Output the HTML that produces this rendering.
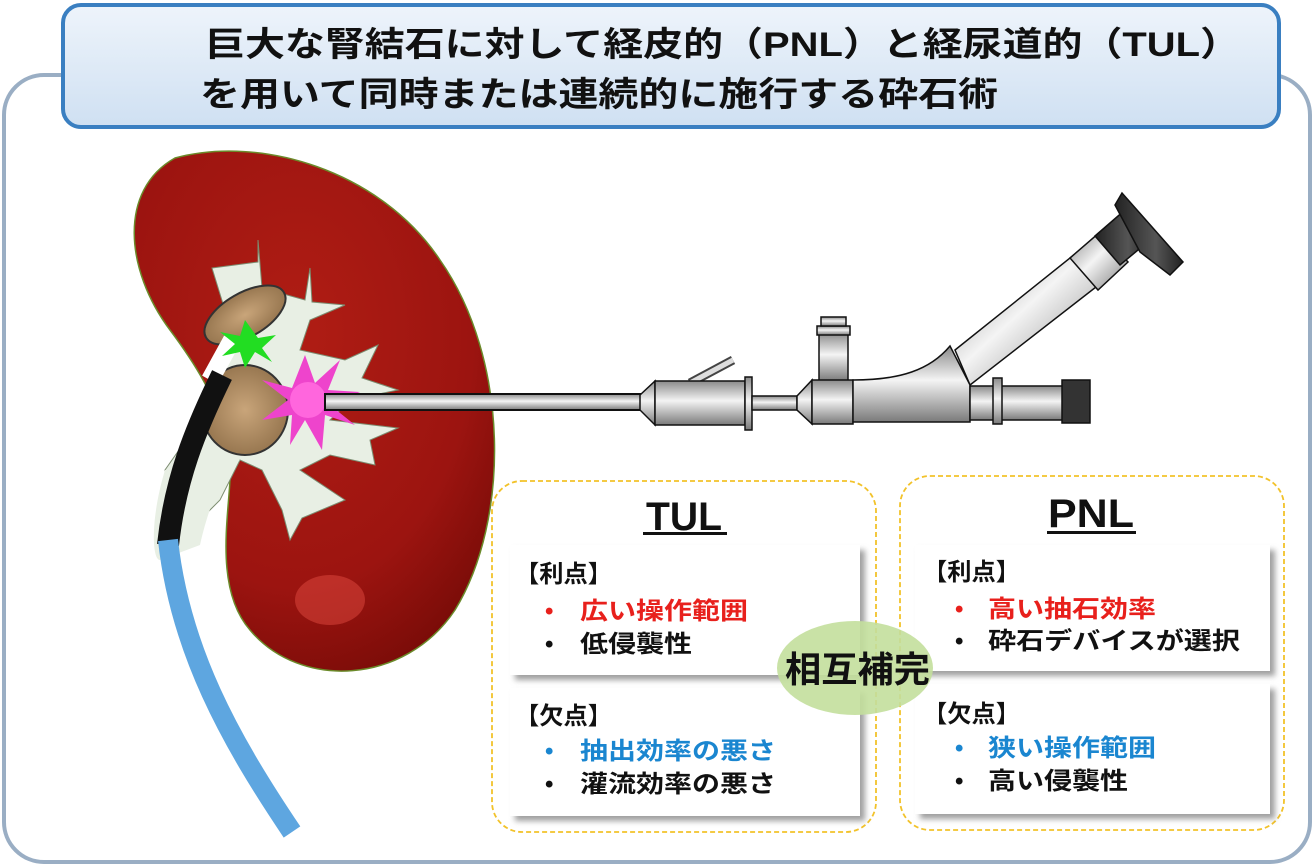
<!DOCTYPE html>
<html><head><meta charset="utf-8"><style>
html,body{margin:0;padding:0;background:#fff}
svg{display:block}
text{font-family:"Liberation Sans","Noto Sans CJK JP",sans-serif;font-weight:bold}
</style></head><body>
<svg width="1316" height="868" viewBox="0 0 1316 868" xmlns="http://www.w3.org/2000/svg">
<defs>
<linearGradient id="metal" x1="0" y1="0" x2="0" y2="1">
<stop offset="0" stop-color="#8a8a8a"/><stop offset="0.45" stop-color="#f4f4f4"/><stop offset="1" stop-color="#7a7a7a"/></linearGradient>
<linearGradient id="metalA" x1="0" y1="0" x2="1" y2="1">
<stop offset="0" stop-color="#8a8a8a"/><stop offset="0.45" stop-color="#f4f4f4"/><stop offset="1" stop-color="#7a7a7a"/></linearGradient>
<linearGradient id="dark" x1="0" y1="0" x2="1" y2="0">
<stop offset="0" stop-color="#222"/><stop offset="0.6" stop-color="#555"/><stop offset="1" stop-color="#222"/></linearGradient>
<linearGradient id="title" x1="0" y1="0" x2="0" y2="1">
<stop offset="0" stop-color="#eef4fb"/><stop offset="1" stop-color="#cfe0f2"/></linearGradient>
<radialGradient id="kid" cx="0.45" cy="0.35" r="0.7">
<stop offset="0" stop-color="#b01d14"/><stop offset="0.7" stop-color="#9c1410"/><stop offset="1" stop-color="#7a0c08"/></radialGradient>
<radialGradient id="stone" cx="0.5" cy="0.5" r="0.6">
<stop offset="0" stop-color="#c9a57a"/><stop offset="1" stop-color="#8e6e48"/></radialGradient>
<filter id="sh" x="-10%" y="-10%" width="130%" height="130%"><feDropShadow dx="5" dy="5" stdDeviation="3" flood-color="#777" flood-opacity="0.7"/></filter>
</defs>
<rect x="4" y="75" width="1306" height="787" rx="40" fill="#fff" stroke="#9aaec4" stroke-width="4"/>
<rect x="63" y="5" width="1216" height="122" rx="18" fill="url(#title)" stroke="#3a7fc1" stroke-width="4"/>
<text x="205" y="56" font-size="34" textLength="1035" lengthAdjust="spacingAndGlyphs" fill="#111">巨大な腎結石に対して経皮的（PNL）と経尿道的（TUL）</text>
<text x="200" y="106" font-size="34" textLength="798" lengthAdjust="spacingAndGlyphs" fill="#111">を用いて同時または連続的に施行する砕石術</text>

<!-- kidney -->
<path d="M175,158 C260,135 380,170 440,260 C510,360 510,520 455,610 C405,685 300,690 250,630 C215,590 228,520 230,480 C232,420 200,370 170,330 C125,270 118,190 175,158 Z" fill="url(#kid)" stroke="#6b8a2a" stroke-width="1.5"/>
<ellipse cx="330" cy="600" rx="35" ry="25" fill="#e04a40" opacity="0.5"/>
<!-- collecting system -->
<path d="M212,268 L258,262 L258,240 L262,288 L305,300 L310,268 L312,302 L345,305 L310,320 L300,350 L345,360 L378,345 L362,378 L398,390 L350,400 L330,420 L398,428 L370,440 L375,465 L330,455 L300,470 L345,500 L302,518 L290,540 L282,510 L262,470 L240,460 L220,500 L180,540 L165,470 L200,420 L225,370 L228,320 Z" fill="#e8efe4" stroke="#7c8c70" stroke-width="1"/>
<path d="M165,470 C150,520 152,560 160,560 L200,545 C210,500 225,470 240,460 Z" fill="#e8efe4"/>
<ellipse cx="245" cy="315" rx="45" ry="22" transform="rotate(-30 245 315)" fill="url(#stone)" stroke="#333" stroke-width="2"/>
<ellipse cx="245" cy="410" rx="43" ry="45" fill="url(#stone)" stroke="#333" stroke-width="2"/>
<!-- ureteroscope -->
<path d="M232,340 L210,380" stroke="#fff" stroke-width="18" fill="none"/>
<path d="M222,375 C195,430 175,480 168,545" stroke="#111" stroke-width="22" fill="none"/>
<path d="M168,540 C180,650 230,740 292,832" stroke="#5ea6e0" stroke-width="20" fill="none"/>
<polygon points="245,320 258,338 276,335 262,348 272,362 255,352 245,368 240,352 222,356 235,344 220,332 240,336" fill="#22dd22"/>
<polygon points="305,355 315,383 340,360 328,390 360,392 330,405 355,425 325,415 322,450 305,420 290,445 292,415 262,420 288,400 262,380 292,388" fill="#ee44cc"/>
<circle cx="308" cy="400" r="18" fill="#ff66dd"/>
<!-- rigid scope -->
<rect x="325" y="394" width="318" height="16" fill="url(#metal)" stroke="#111" stroke-width="2"/>
<line x1="690" y1="383" x2="733" y2="360" stroke="#444" stroke-width="9"/>
<line x1="690" y1="383" x2="733" y2="360" stroke="#ddd" stroke-width="5"/>
<polygon points="640,395 655,381 655,425 640,410" fill="url(#metal)" stroke="#111" stroke-width="1.5"/>
<rect x="655" y="381" width="90" height="44" fill="url(#metal)" stroke="#111" stroke-width="1.5"/>
<rect x="745" y="377" width="7" height="53" fill="url(#metal)" stroke="#111" stroke-width="1.5"/>
<rect x="752" y="396" width="45" height="14" fill="url(#metal)" stroke="#111" stroke-width="1.5"/>
<polygon points="797,396 812,380 812,424 797,410" fill="url(#metal)" stroke="#111" stroke-width="1.5"/>
<rect x="819" y="333" width="29" height="48" fill="url(#metal)" stroke="#111" stroke-width="1.5"/>
<rect x="817" y="326" width="33" height="9" fill="url(#metal)" stroke="#111" stroke-width="1.5"/>
<rect x="821" y="317" width="25" height="9" fill="url(#metal)" stroke="#111" stroke-width="1.5"/>
<polygon points="955,350 1080,250 1105,280 970,385" fill="url(#metalA)" stroke="#111" stroke-width="1.5"/>
<polygon points="1070,258 1100,232 1128,262 1098,290" fill="url(#metalA)" stroke="#111" stroke-width="1.5"/>
<polygon points="1095,236 1125,210 1150,240 1120,265" fill="url(#dark)" stroke="#111" stroke-width="1.5"/>
<polygon points="1115,205 1122,193 1183,262 1170,275 1140,252" fill="url(#dark)" stroke="#111" stroke-width="1.5"/>
<rect x="812" y="380" width="41" height="44" fill="url(#metal)" stroke="#111" stroke-width="1.5"/>
<path d="M853,380 C900,380 930,370 950,346 L970,385 L970,422 L853,422 Z" fill="url(#metal)" stroke="#111" stroke-width="1.5"/>
<rect x="970" y="386" width="95" height="34" fill="url(#metal)" stroke="#111" stroke-width="1.5"/>
<rect x="993" y="378" width="9" height="46" fill="url(#metal)" stroke="#111" stroke-width="1.5"/>
<rect x="1062" y="380" width="28" height="43" fill="#333" stroke="#111" stroke-width="1.5"/>

<!-- boxes -->
<rect x="492" y="481" width="384" height="351" rx="30" fill="#fff" stroke="#f2c22a" stroke-width="1.8" stroke-dasharray="5,3"/>
<rect x="900" y="476" width="384" height="354" rx="30" fill="#fff" stroke="#f2c22a" stroke-width="1.8" stroke-dasharray="5,3"/>
<rect x="510" y="545" width="350" height="130" fill="#fff" filter="url(#sh)"/>
<rect x="510" y="688" width="350" height="128" fill="#fff" filter="url(#sh)"/>
<rect x="915" y="545" width="355" height="126" fill="#fff" filter="url(#sh)"/>
<rect x="915" y="684" width="355" height="130" fill="#fff" filter="url(#sh)"/>
<ellipse cx="855" cy="668" rx="78" ry="47" fill="#c3df9c" opacity="0.9"/>

<text x="646" y="530" font-size="40" textLength="76" lengthAdjust="spacingAndGlyphs" fill="#111">TUL</text>
<rect x="643" y="532" width="84" height="3" fill="#111"/>
<text x="1048" y="527" font-size="40" textLength="86" lengthAdjust="spacingAndGlyphs" fill="#111">PNL</text>
<rect x="1047" y="531" width="89" height="3" fill="#111"/>

<g font-size="24">
<text x="515" y="582" textLength="97" lengthAdjust="spacingAndGlyphs" fill="#111">【利点】</text>
<text x="545" y="619" fill="#e8201c">•</text><text x="580" y="619" textLength="168" lengthAdjust="spacingAndGlyphs" fill="#e8201c">広い操作範囲</text>
<text x="545" y="652" fill="#111">•</text><text x="580" y="652" textLength="112" lengthAdjust="spacingAndGlyphs" fill="#111">低侵襲性</text>
<text x="515" y="724" textLength="97" lengthAdjust="spacingAndGlyphs" fill="#111">【欠点】</text>
<text x="545" y="759" fill="#1a86d0">•</text><text x="580" y="759" textLength="196" lengthAdjust="spacingAndGlyphs" fill="#1a86d0">抽出効率の悪さ</text>
<text x="545" y="792" fill="#111">•</text><text x="580" y="792" textLength="196" lengthAdjust="spacingAndGlyphs" fill="#111">灌流効率の悪さ</text>
<text x="923" y="580" textLength="97" lengthAdjust="spacingAndGlyphs" fill="#111">【利点】</text>
<text x="955" y="617" fill="#e8201c">•</text><text x="988" y="617" textLength="168" lengthAdjust="spacingAndGlyphs" fill="#e8201c">高い抽石効率</text>
<text x="955" y="649" fill="#111">•</text><text x="988" y="649" textLength="252" lengthAdjust="spacingAndGlyphs" fill="#111">砕石デバイスが選択</text>
<text x="923" y="722" textLength="97" lengthAdjust="spacingAndGlyphs" fill="#111">【欠点】</text>
<text x="955" y="756" fill="#1a86d0">•</text><text x="988" y="756" textLength="168" lengthAdjust="spacingAndGlyphs" fill="#1a86d0">狭い操作範囲</text>
<text x="955" y="789" fill="#111">•</text><text x="988" y="789" textLength="140" lengthAdjust="spacingAndGlyphs" fill="#111">高い侵襲性</text>
</g>
<text x="785" y="682" font-size="36" textLength="145" lengthAdjust="spacingAndGlyphs" fill="#111">相互補完</text>
</svg>
</body></html>
